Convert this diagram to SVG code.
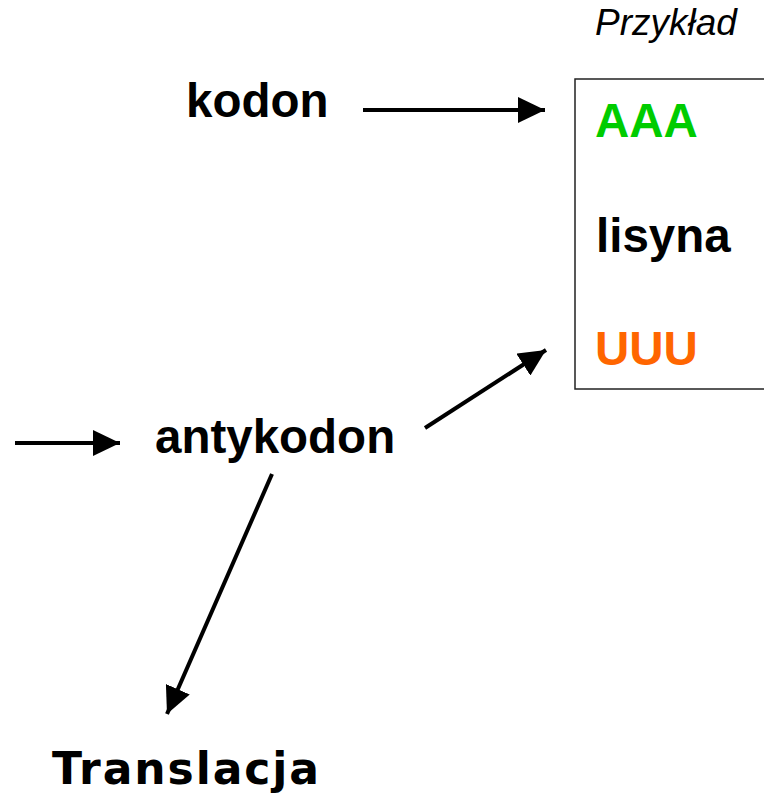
<svg xmlns="http://www.w3.org/2000/svg" width="764" height="805" viewBox="0 0 764 805">
<style>
.t{font-family:"Liberation Sans",Arial,sans-serif;font-weight:bold;font-size:47.5px;fill:#000}
.it{font-family:"Liberation Sans",Arial,sans-serif;font-style:italic;font-size:37px;fill:#000}
.comic{font-family:"Comic Sans MS","DejaVu Sans",sans-serif;font-weight:bold;font-size:44px;fill:#000}
.c{stroke:#000;stroke-width:4;fill:none;marker-end:url(#ah)}
</style>
<defs>
<marker id="ah" markerUnits="userSpaceOnUse" viewBox="0 0 27 26" refX="27" refY="13" markerWidth="27" markerHeight="26" orient="auto">
<path d="M0,0 L27,13 L0,26 Z" fill="#000"/>
</marker>
</defs>
<rect width="764" height="805" fill="#fff"/>
<g id="example">
<text class="it" x="595" y="35">Przykład</text>
<rect x="575" y="79" width="200" height="310" fill="none" stroke="#222" stroke-width="1.5"/>
<text class="t" x="595" y="137" style="fill:#00CC00">AAA</text>
<text class="t" x="596" y="252">lisyna</text>
<text class="t" x="595" y="365" style="fill:#FF6600">UUU</text>
</g>
<g id="kodon"><text class="t" x="186" y="117">kodon</text></g>
<g id="antykodon"><text class="t" x="155" y="453">antykodon</text></g>
<g id="translacja"><text class="comic" x="52" y="784" textLength="267" lengthAdjust="spacing">Translacja</text></g>
<g id="connectors">
<line class="c" x1="363" y1="110" x2="545" y2="110"/>
<line class="c" x1="15" y1="443" x2="120" y2="443"/>
<line class="c" x1="425" y1="428" x2="546" y2="350"/>
<line class="c" x1="272" y1="474" x2="167" y2="714"/>
</g>
</svg>
